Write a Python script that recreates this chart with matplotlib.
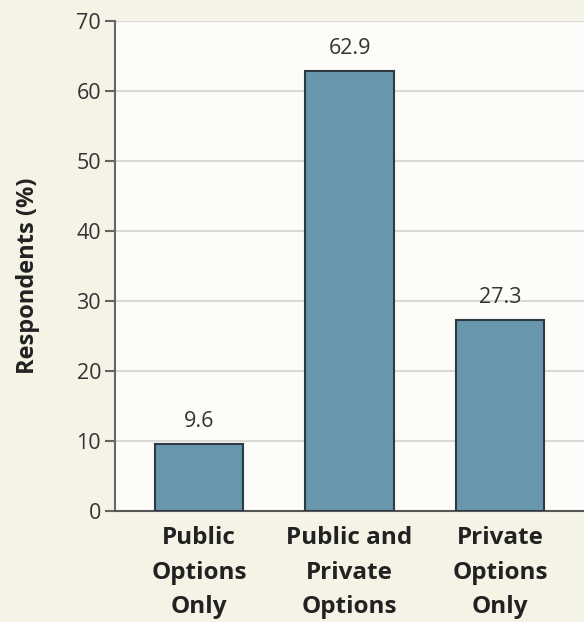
import matplotlib.pyplot as plt

categories = ["Public\nOptions\nOnly", "Public and\nPrivate\nOptions", "Private\nOptions\nOnly"]
values = [9.6, 62.9, 27.3]
yticks = [0, 10, 20, 30, 40, 50, 60, 70]

plt.rcParams['font.family'] = ['Open Sans', 'DejaVu Sans']

fig = plt.figure(figsize=(5.84, 6.22), dpi=100, facecolor='#f5f2e6')
ax = fig.add_axes([115 / 584, 1 - 511 / 622, 1 - 115 / 584, 490 / 622])
ax.set_facecolor('#fdfcf8')

x = range(len(values))
bars = ax.bar(x, values, width=0.585, color='#6896ad', edgecolor='#2e3a42', linewidth=1.5, zorder=3)
for xi, v in zip(x, values):
    ax.text(xi, v + 1.7, f"{v:.1f}", ha='center', va='bottom', fontsize=15.5, color='#333333')

ax.set_xlim(-0.558, 2.558)
ax.set_ylim(0, 70)
ax.set_yticks(yticks)
ax.set_yticklabels([str(t) for t in yticks], fontsize=15.5, color='#333333')
ax.yaxis.grid(True, color='#d9d9d6', linewidth=1.5, zorder=0)
ax.set_axisbelow(True)

ax.set_xticks(list(x))
ax.set_xticklabels(categories, fontsize=17.5, fontweight='bold', color='#222222', linespacing=1.57)
ax.tick_params(axis='x', length=0, pad=11)
ax.tick_params(axis='y', length=7, width=1.5, color='#666666', pad=3)

for s in ['top', 'right']:
    ax.spines[s].set_visible(False)
ax.spines['left'].set_color('#666666')
ax.spines['left'].set_linewidth(1.5)
ax.spines['bottom'].set_color('#555555')
ax.spines['bottom'].set_linewidth(1.5)

ax.set_ylabel("Respondents (%)", fontsize=17, fontweight='bold', color='#222222', labelpad=0)
ax.yaxis.set_label_coords(-0.16, 0.48)

fig.savefig("out.png", dpi=100, facecolor=fig.get_facecolor())
